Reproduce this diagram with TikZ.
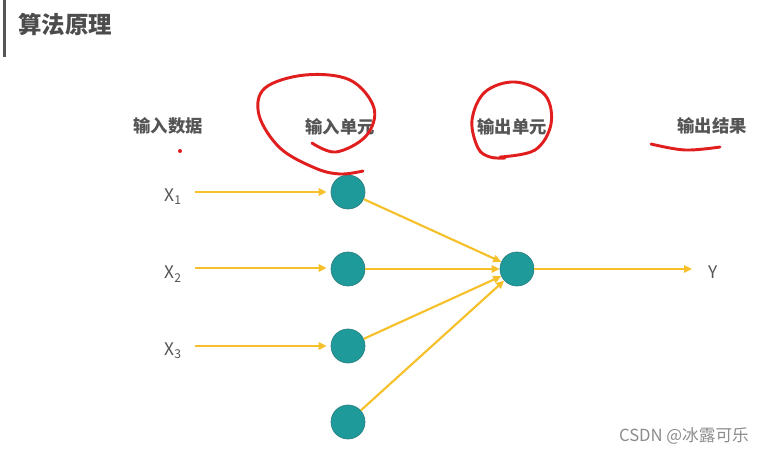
\documentclass[tikz,border=0pt]{standalone}
\usepackage{fontspec}
\setmainfont{Noto Sans CJK SC}
\newfontfamily\cjk{Noto Sans CJK SC}
\usetikzlibrary{arrows.meta}
\definecolor{teal1}{HTML}{1E9A9A}
\definecolor{teal2}{HTML}{2C7F80}
\definecolor{arrowy}{HTML}{F5C02A}
\definecolor{txtgray}{HTML}{555555}
\definecolor{redpen}{HTML}{E01E1E}
\tikzset{
  neuron/.style={circle,fill=teal1,draw=teal2,line width=0.5pt,minimum size=25.5pt,inner sep=0pt},
  conn/.style={draw=arrowy,line width=1.6pt,-{Triangle[length=6pt,width=5.5pt]}},
  lbl/.style={text=txtgray,font=\cjk\fontsize{13}{15}\selectfont\bfseries},
  xlbl/.style={text=txtgray,font=\cjk\fontsize{13}{15}\selectfont},
  pen/.style={draw=redpen,line width=2.2pt,line cap=round,line join=round}
}
\begin{document}
\begin{tikzpicture}[x=0.75pt,y=-0.75pt]
\useasboundingbox (0,0) rectangle (767,454);
% title bar
\fill[txtgray] (3,0) rectangle (6,57);
\node[anchor=west,inner sep=0pt,text=txtgray!90!black,font=\cjk\fontsize{17.6}{20}\selectfont\bfseries] (title) at (18,24) {算法原理};
% column labels
\node[lbl] (l1) at (168,126) {输入数据};
\node[lbl] (l2) at (340,127) {输入单元};
\node[lbl] (l3) at (512,127) {输出单元};
\node[lbl] (l4) at (712,126) {输出结果};
% neurons
\node[neuron] (in1) at (348,192) {};
\node[neuron] (in2) at (348,269) {};
\node[neuron] (in3) at (348,346) {};
\node[neuron] (in4) at (348,422) {};
\node[neuron] (out) at (517,269) {};
% inputs
\node[xlbl] (x1) at (173,197) {X\textsubscript{1}};
\node[xlbl] (x2) at (173,274) {X\textsubscript{2}};
\node[xlbl] (x3) at (173,351) {X\textsubscript{3}};
\node[xlbl] (y) at (713,272) {Y};
\coordinate (s1) at (195,192);
\coordinate (s2) at (195,268);
\coordinate (s3) at (195,346);
\coordinate (ye) at (692,269);
\draw[conn,shorten >=3pt] (s1) -- (in1);
\draw[conn,shorten >=3pt] (s2) -- (in2.west|-s2);
\draw[conn,shorten >=3pt] (s3) -- (in3);
\draw[conn] (in1) -- (out);
\draw[conn] (in2) -- (out);
\draw[conn] (in3) -- (out);
\draw[conn] (in4) -- (out);
\draw[conn] (out) -- (ye);
% red pen marks
\fill[redpen] (180,151) circle (2);
\draw[pen] plot[smooth,tension=0.6] coordinates {(312,143) (336,152) (366,136) (374,108) (350,80) (305,75) (265,88) (259,115) (280,148) (315,168) (340,174) (363,171)};
\draw[pen] plot[smooth,tension=0.6] coordinates {(500,157) (535,150) (551,124) (545,95) (515,82) (485,92) (472,120) (478,148) (490,157) (505,158)};
\draw[pen] plot[smooth,tension=0.6] coordinates {(651,144) (685,150) (720,147)};
% watermark
\node[text=black!45,font=\cjk\fontsize{12.5}{14}\selectfont] (wm) at (684,436) {CSDN @冰露可乐};
\end{tikzpicture}
\end{document}
